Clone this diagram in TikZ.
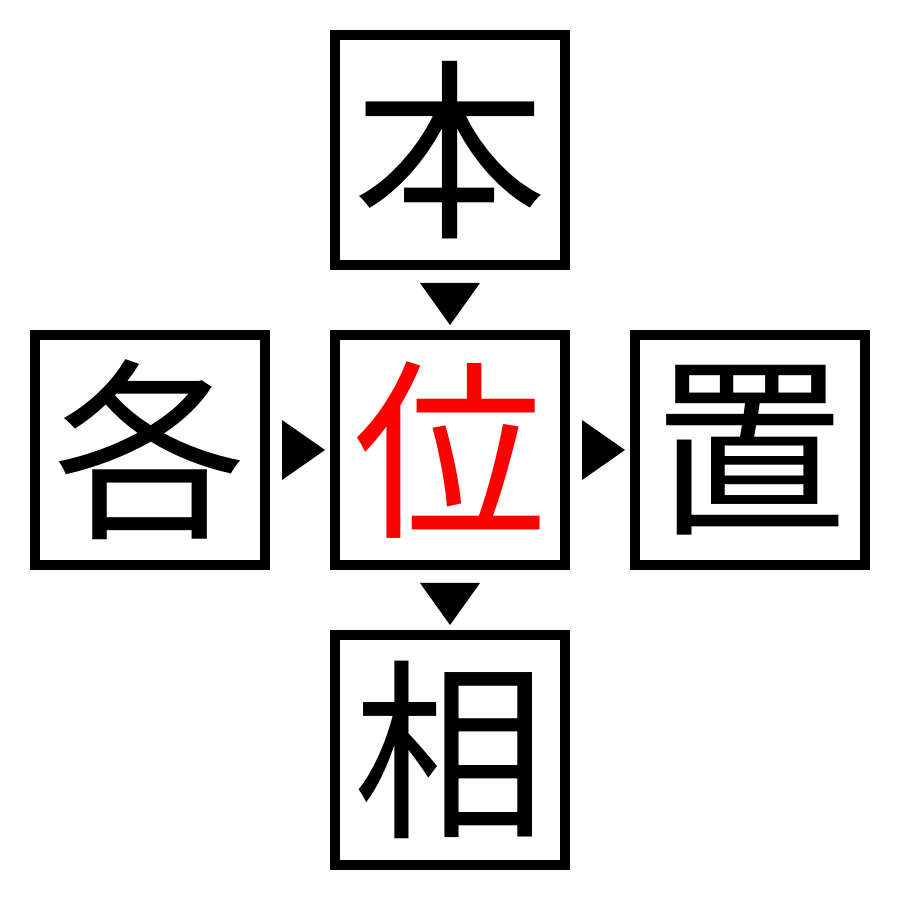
\documentclass[tikz,border=0pt]{standalone}
\usepackage{fontspec}
\newfontfamily\cjk{Noto Sans CJK JP}
\begin{document}
\begin{tikzpicture}
\tikzset{
  charbox/.style={draw=black, line width=1mm, minimum size=2.3cm, inner sep=0pt,
    font=\cjk\fontsize{55}{55}\selectfont},
  tri/.style={fill=black}
}
\useasboundingbox (0,0) rectangle (9,9);
\node[charbox] (top) at (4.5,7.5) {本};
\node[charbox] (left) at (1.5,4.5) {各};
\node[charbox, text=red] (mid) at (4.5,4.5) {位};
\node[charbox] (right) at (7.5,4.5) {置};
\node[charbox] (bot) at (4.5,1.5) {相};
% down triangles
\fill[tri] (4.2,6.17) -- (4.8,6.17) -- (4.5,5.75) -- cycle;
\fill[tri] (4.2,3.17) -- (4.8,3.17) -- (4.5,2.75) -- cycle;
% right triangles
\fill[tri] (2.82,4.8) -- (2.82,4.2) -- (3.25,4.5) -- cycle;
\fill[tri] (5.82,4.8) -- (5.82,4.2) -- (6.25,4.5) -- cycle;
\end{tikzpicture}
\end{document}
